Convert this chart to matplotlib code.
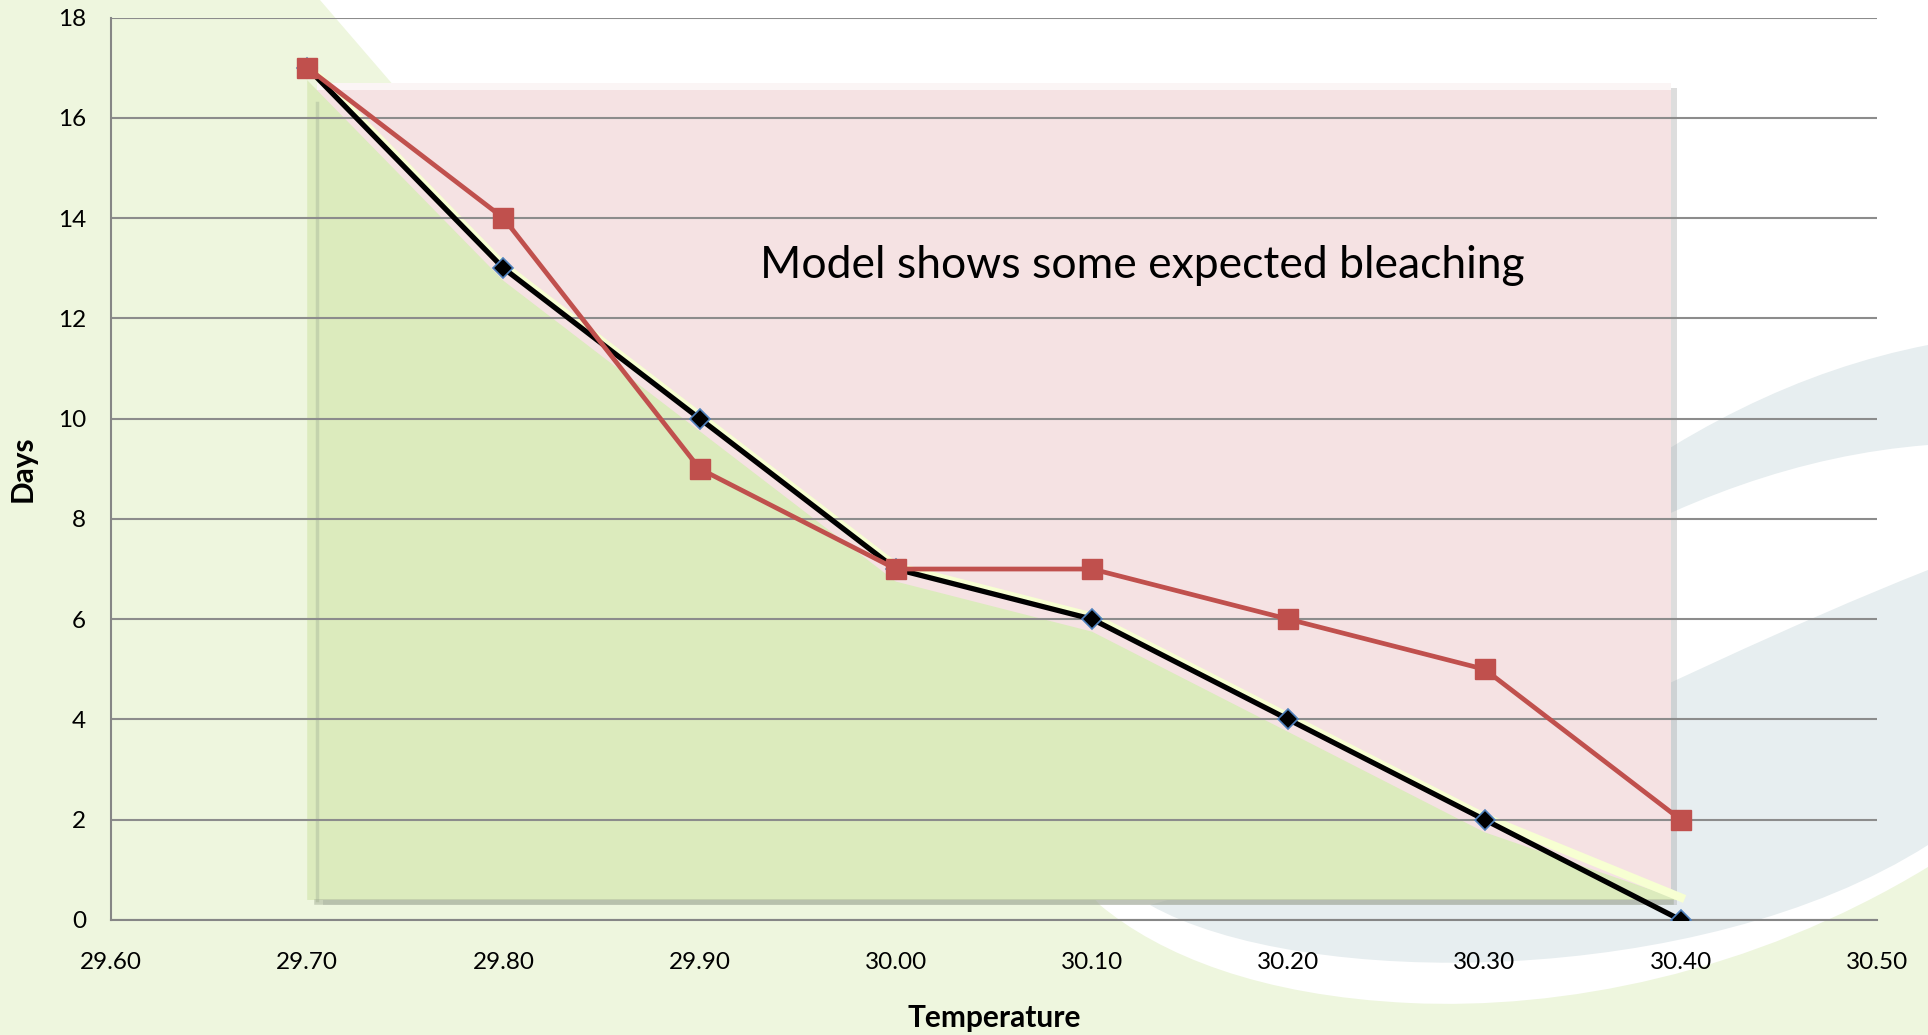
import numpy as np
import matplotlib.pyplot as plt
from matplotlib.patches import PathPatch, Rectangle
from matplotlib.path import Path

# data
temperature = [29.70, 29.80, 29.90, 30.00, 30.10, 30.20, 30.30, 30.40]
days_model = [17, 13, 10, 7, 6, 4, 2, 0]
days_observed = [17, 14, 9, 7, 7, 6, 5, 2]
x_ticks = [29.60, 29.70, 29.80, 29.90, 30.00, 30.10, 30.20, 30.30, 30.40, 30.50]
y_ticks = [0, 2, 4, 6, 8, 10, 12, 14, 16, 18]
note = 'Model shows some expected bleaching'

plt.rcParams['font.family'] = ['Lato', 'DejaVu Sans']

W, H = 1928, 1035
fig = plt.figure(figsize=(W / 100, H / 100), dpi=100, facecolor='#eef6de')

# slide background shapes (pixel coordinates, y down)
bg = fig.add_axes([0, 0, 1, 1], zorder=-1)
bg.set_xlim(0, W)
bg.set_ylim(H, 0)
bg.axis('off')

M, L, C, Z = Path.MOVETO, Path.LINETO, Path.CURVE4, Path.CLOSEPOLY
white = Path([(320, 0), (W, 0), (W, 867),
              (1750, 975), (1560, 1010), (1410, 1003),
              (1260, 996), (1160, 955), (1100, 905),
              (320, 0)],
             [M, L, L, C, C, C, C, C, C, Z])
bg.add_patch(PathPatch(white, facecolor='white', edgecolor='none'))

blue = '#e7eef0'
swoosh_top = Path([(1560, 525), (1680, 430), (1800, 370), (W, 345), (W, 445),
                   (1800, 455), (1680, 500), (1560, 570), (1560, 525)],
                  [M, C, C, C, L, C, C, C, Z])
bg.add_patch(PathPatch(swoosh_top, facecolor=blue, edgecolor='none'))
swoosh_low = Path([(W, 570), (1650, 680), (1350, 850), (1150, 905),
                   (1300, 990), (1700, 990), (W, 845), (W, 570)],
                  [M, C, C, C, C, C, C, Z])
bg.add_patch(PathPatch(swoosh_low, facecolor=blue, edgecolor='none'))

ax = fig.add_axes([111 / W, 1 - 920 / H, 1766 / W, 902.5 / H])
ax.set_facecolor('none')

# shaded zones behind the lines
x0, x1 = temperature[0] + 0.005, temperature[-1] - 0.005
ax.add_patch(Rectangle((x0 + 0.003, 0.3), x1 - x0, 16.3, facecolor='#a0a0a0',
                       edgecolor='none', alpha=0.35, zorder=0.8))
ax.add_patch(Rectangle((x0, 0.4), x1 - x0, 16.3, facecolor='#f5e2e3',
                       edgecolor='none', zorder=0.9))
ax.add_patch(Rectangle((x0, 16.55), x1 - x0, 0.15, facecolor='#fbf5f5',
                       edgecolor='none', zorder=0.9))
t = np.array(temperature)
m = np.array(days_model, dtype=float)
ax.fill_between(t, np.maximum(m - 0.25, 0.4), 0.4, facecolor='#dcebbd',
                edgecolor='none', zorder=1)
ax.plot(t, np.maximum(m + 0.05, 0.45), color='#f7ffd2', lw=6, zorder=1.1)
ax.plot([x0, x0], [0.4, 16.3], color='#aebd9e', lw=2.5, alpha=0.5, zorder=1.1)
ax.plot([x0, x1], [0.35, 0.35], color='#9aa58c', lw=4, alpha=0.45, zorder=1.1)

ax.plot(temperature, days_model, color='black', lw=3.8, marker='D', ms=10,
        mfc='black', mec='#4f81bd', mew=1.2, zorder=3)
ax.plot(temperature, days_observed, color='#c0504d', lw=3.4, marker='s', ms=14,
        mfc='#c0504d', mec='#c0504d', zorder=4)

ax.text(30.1255, 12.80, note, fontsize=32, ha='center', va='baseline', zorder=5)

ax.set_xlim(29.6, 30.5)
ax.set_ylim(0, 18)
ax.set_xticks(x_ticks)
ax.set_xticklabels(['%.2f' % v for v in x_ticks])
ax.set_yticks(y_ticks)
ax.tick_params(length=0, labelsize=17.5)
ax.tick_params(axis='x', pad=23)
ax.tick_params(axis='y', pad=18)
ax.grid(axis='y', color='#8c8c8c', lw=1.5)
ax.set_axisbelow('line')
for s in ['top', 'right']:
    ax.spines[s].set_visible(False)
for s in ['left', 'bottom']:
    ax.spines[s].set_color('#868686')
    ax.spines[s].set_linewidth(1.5)

ax.set_xlabel('Temperature', fontsize=21.5, fontweight='bold', va='center')
ax.xaxis.set_label_coords(0.5, -0.1086)
ax.set_ylabel('Days', fontsize=21.5, fontweight='bold', va='center')
ax.yaxis.set_label_coords(-0.0498, 0.5)

fig.savefig('out.png', dpi=100, facecolor=fig.get_facecolor())
